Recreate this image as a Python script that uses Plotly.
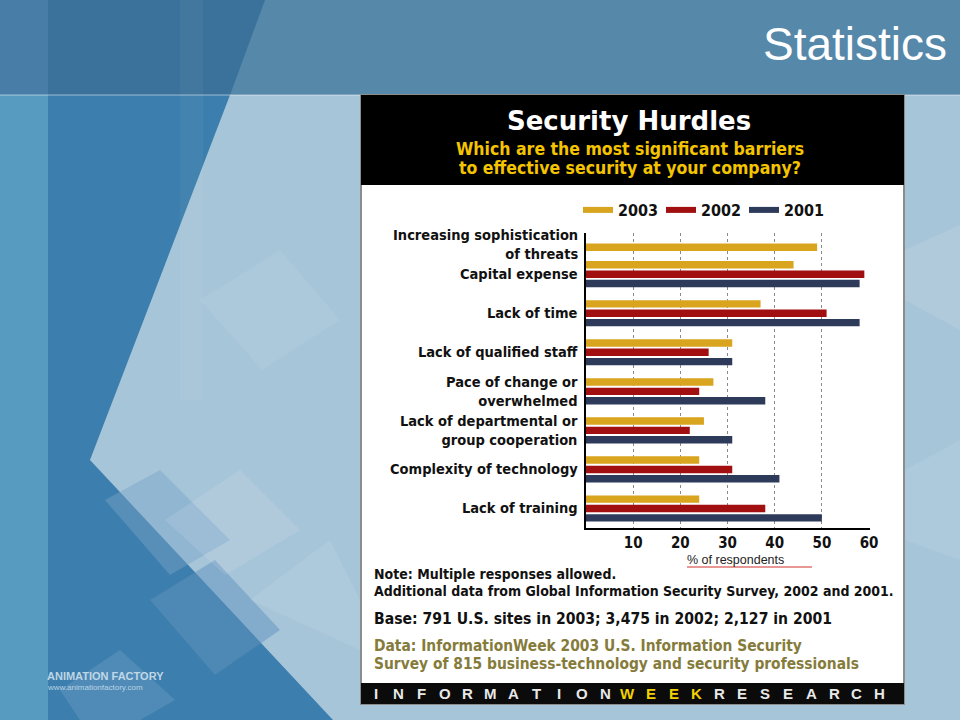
import plotly.graph_objects as go

# ---------------- data ----------------
categories = [
    "Increasing sophistication<br>of threats",
    "Capital expense",
    "Lack of time",
    "Lack of qualified staff",
    "Pace of change or<br>overwhelmed",
    "Lack of departmental or<br>group cooperation",
    "Complexity of technology",
    "Lack of training",
]
years = ["2003", "2002", "2001"]
v2003 = [49, 44, 37, 31, 27, 25, 24, 24]
v2002 = [None, 59, 51, 26, 24, 22, 31, 38]
v2001 = [None, 58, 58, 31, 38, 31, 41, 50]
x_ticks = [10, 20, 30, 40, 50, 60]

colors = {"2003": "#D9A41E", "2002": "#A10F10", "2001": "#2D3A5A"}

# ---------------- geometry helpers ----------------
W, H = 960, 720
L, R, T, B = 586, 90, 233, 192
PW, PH = W - L - R, H - T - B


def px(x):
    return (x - L) / PW


def py(y):
    return (H - B - y) / PH


def poly(points, color, line=None):
    d = "M " + " L ".join(f"{px(a):.5f},{py(b):.5f}" for a, b in points) + " Z"
    return dict(type="path", path=d, xref="paper", yref="paper",
                fillcolor=color, line=line or dict(width=0), layer="below")


def rect(x0, y0, x1, y1, color, line=None):
    return dict(type="rect", xref="paper", yref="paper",
                x0=px(x0), x1=px(x1), y0=py(y1), y1=py(y0),
                fillcolor=color, line=line or dict(width=0), layer="below")


LABEL_FONT = "DejaVu Sans Condensed, DejaVu Sans, sans-serif"
ARIAL = "Liberation Sans, Arial, sans-serif"

fig = go.Figure()

bar_w = 0.19
offsets = {"2003": -0.335, "2002": -0.095, "2001": 0.145}
series = {"2003": v2003, "2002": v2002, "2001": v2001}
for yr in years:
    off = [offsets[yr]] * len(categories)
    if yr == "2003":
        off[0] = 0.215  # lone bar of the first (new) category
    fig.add_trace(go.Bar(
        y=categories, x=series[yr], orientation="h", name=yr,
        marker=dict(color=colors[yr], line=dict(width=0)),
        width=bar_w, offset=off, showlegend=False,
        hovertemplate="%{y}: %{x}%<extra>" + yr + "</extra>",
    ))
    # legend entry drawn as a line swatch
    fig.add_trace(go.Scatter(
        x=[None], y=[None], mode="lines", name=yr,
        line=dict(color=colors[yr], width=6), showlegend=True,
    ))

# ---------------- background (slide) ----------------
shapes = []
shapes.append(rect(0, 95, 48, 720, "#579CC0"))
shapes.append(poly([(48, 95), (230, 95), (90, 460), (333, 720), (48, 720)], "#3C7EAD"))
shapes.append(poly([(105, 500), (160, 470), (230, 540), (170, 575)], "rgba(120,165,200,0.45)"))
shapes.append(poly([(150, 600), (215, 560), (280, 630), (215, 675)], "rgba(95,145,190,0.5)"))
shapes.append(poly([(60, 690), (120, 650), (175, 700), (140, 720), (80, 720)], "rgba(110,160,200,0.4)"))
shapes.append(poly([(165, 520), (240, 470), (300, 530), (225, 575)], "rgba(255,255,255,0.10)"))
shapes.append(poly([(250, 600), (330, 540), (360, 600), (360, 650)], "rgba(255,255,255,0.08)"))
shapes.append(poly([(200, 300), (280, 250), (340, 320), (262, 370)], "rgba(255,255,255,0.06)"))
shapes.append(rect(180, 95, 203, 400, "rgba(255,255,255,0.04)"))
shapes.append(rect(0, 0, 960, 95, "#5688AA"))
shapes.append(poly([(0, 0), (265, 0), (230, 95), (0, 95)], "#3B729B"))
shapes.append(rect(0, 0, 48, 95, "#477DA6"))
shapes.append(rect(180, 0, 203, 95, "rgba(255,255,255,0.04)"))
shapes.append(rect(0, 94, 960, 96, "rgba(255,255,255,0.25)"))
shapes.append(poly([(905, 250), (960, 225), (960, 330), (905, 300)], "rgba(255,255,255,0.10)"))
shapes.append(poly([(905, 470), (960, 440), (960, 560), (905, 540)], "rgba(255,255,255,0.08)"))

# ---------------- infographic panel ----------------
shapes.append(rect(360, 94, 905, 705, "#8C8C8C"))
shapes.append(rect(362, 185, 903, 683, "#FFFFFF"))
shapes.append(rect(361, 95, 904, 185, "#000000"))
shapes.append(rect(361, 683, 904, 704, "#0B0B0B"))
# red underline below axis title
shapes.append(dict(type="line", xref="paper", yref="paper",
                   x0=px(687), x1=px(812), y0=py(567), y1=py(567),
                   line=dict(color="#D0302A", width=1.2)))

annotations = []


def text(x, y, s, size, color, family=LABEL_FONT, xanchor="left", bold=True, **kw):
    annotations.append(dict(
        x=px(x), y=py(y), xref="paper", yref="paper", text=(f"<b>{s}</b>" if bold else s),
        showarrow=False, xanchor=xanchor, yanchor="middle",
        font=dict(size=size, color=color, family=family), **kw))


# slide title
text(949, 44, "Statistics", 46, "#FFFFFF", family=ARIAL, xanchor="right", bold=False)

# panel header
text(629, 121, "Security Hurdles", 26, "#FFFFFF",
     family="DejaVu Sans, sans-serif", xanchor="center")
text(630, 149, "Which are the most significant barriers", 17.5, "#F4C400", xanchor="center")
text(630, 168, "to effective security at your company?", 17.5, "#F4C400", xanchor="center")

# category labels (right aligned against the axis)
for i, cat in enumerate(categories):
    annotations.append(dict(
        x=0, y=cat, xref="x", yref="y", text=f"<b>{cat}</b>", showarrow=False,
        xanchor="right", yanchor="middle", align="right", xshift=-6,
        yshift=(-9 if i == 0 else 0),
        font=dict(size=14.5, color="#111111", family=LABEL_FONT)))

# axis title
text(735, 560, "% of respondents", 12.5, "#222222", family=ARIAL,
     xanchor="center", bold=False)

# notes
text(372, 574, "Note: Multiple responses allowed.", 14, "#111111")
text(372, 591, "Additional data from Global Information Security Survey, 2002 and 2001.", 14, "#111111")
text(372, 619, "Base: 791 U.S. sites in 2003; 3,475 in 2002; 2,127 in 2001", 15.6, "#111111")
text(372, 646, "Data: InformationWeek 2003 U.S. Information Security", 15.4, "#857B3A")
text(372, 664, "Survey of 815 business-technology and security professionals", 15.4, "#857B3A")

# footer brand line
brand = "INFORMATIONWEEKRESEARCH"
for k, ch in enumerate(brand):
    col = "#F2D100" if 11 <= k <= 14 else "#E8E8E8"
    text(376 + k * 22.9, 693, ch, 15, col, family=ARIAL, xanchor="center")

# Animation Factory logo text
text(45, 676, "ANIMATION FACTORY", 11, "rgba(215,230,240,0.85)", family=ARIAL)
text(45, 687, "www.animationfactory.com", 8, "rgba(215,230,240,0.8)",
     family=ARIAL, bold=False)

fig.update_layout(
    width=W, height=H,
    margin=dict(l=L, r=R, t=T, b=B, pad=0),
    paper_bgcolor="#A7C5D9",
    plot_bgcolor="rgba(0,0,0,0)",
    barmode="overlay",
    shapes=shapes,
    annotations=annotations,
    showlegend=True,
    legend=dict(orientation="h", x=px(578), y=py(210), xanchor="left", yanchor="middle",
                bgcolor="rgba(0,0,0,0)",
                font=dict(size=16, color="#111111", family=LABEL_FONT, weight="bold"),
                entrywidth=38, entrywidthmode="pixels", itemclick=False, itemdoubleclick=False,
                traceorder="normal"),
    xaxis=dict(range=[0, 60.2], tickvals=x_ticks, ticktext=[f"<b>{v}</b>" for v in x_ticks],
               showgrid=True, gridcolor="#8A8A8A", griddash="dot", gridwidth=1,
               showline=True, linecolor="#000000", linewidth=1.5, zeroline=False,
               ticks="", tickfont=dict(size=15, color="#111111", family=LABEL_FONT),
               fixedrange=True),
    yaxis=dict(range=[7.5, -0.055], type="category", categoryorder="array",
               categoryarray=categories, showticklabels=False, showgrid=False,
               showline=True, linecolor="#000000", linewidth=1.5, zeroline=False,
               ticks="", fixedrange=True),
    font=dict(family=LABEL_FONT),
)

fig.write_html("out.html", config={"displayModeBar": False},
               post_script="document.body.style.margin='0';document.body.style.overflow='hidden';")
